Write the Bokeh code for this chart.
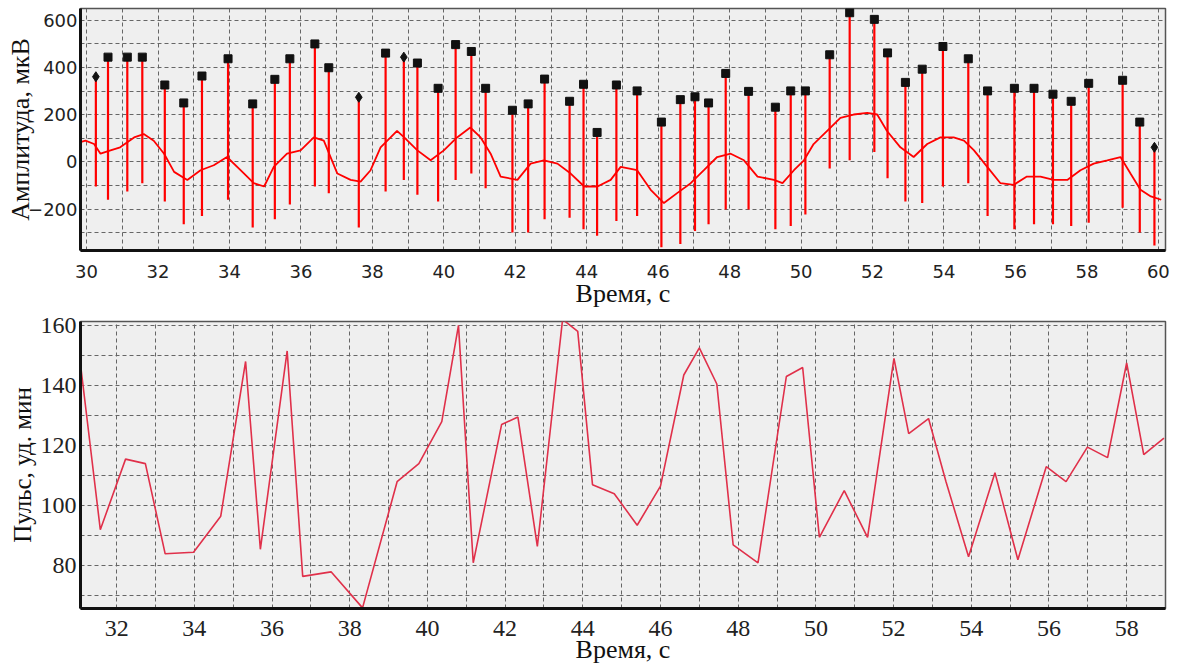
from bokeh.plotting import figure
from bokeh.models import Range1d, SingleIntervalTicker, FixedTicker
from bokeh.layouts import column
from bokeh.embed import file_html
from bokeh.resources import INLINE

# ---------------- data: ECG (top) ----------------
base_t = [29.85, 29.97, 30.21, 30.39, 30.67, 30.94, 31.33, 31.60, 31.88, 32.17,
          32.45, 32.82, 33.19, 33.56, 33.93, 34.31, 34.68, 34.97, 35.24, 35.61,
          35.99, 36.36, 36.64, 37.02, 37.39, 37.67, 37.95, 38.23, 38.51, 38.69,
          38.89, 39.26, 39.63, 40.00, 40.37, 40.74, 41.03, 41.31, 41.59, 42.06,
          42.43, 42.80, 43.18, 43.55, 43.93, 44.30, 44.67, 44.95, 45.41, 45.79,
          46.16, 46.53, 46.91, 47.28, 47.65, 48.03, 48.40, 48.78, 49.24, 49.48,
          49.80, 50.08, 50.35, 50.73, 51.10, 51.47, 51.85, 52.13, 52.40, 52.78,
          53.15, 53.53, 53.90, 54.27, 54.56, 54.84, 55.21, 55.58, 55.95, 56.32,
          56.70, 57.07, 57.45, 57.82, 58.19, 58.57, 58.94, 59.22, 59.50, 59.79,
          60.08]
base_v = [85, 90, 76, 35, 49, 62, 104, 118, 90, 35,
          -42, -76, -35, -14, 21, -35, -90, -104, -21, 35,
          49, 104, 90, -49, -76, -83, -35, 62, 104, 132,
          104, 49, 7, 49, 104, 146, 104, 35, -62, -76,
          -7, 7, -7, -49, -104, -104, -76, -21, -35, -118,
          -174, -132, -90, -35, 21, 35, 7, -62, -76, -90,
          -35, 7, 76, 132, 187, 201, 208, 201, 132, 62,
          21, 76, 104, 104, 90, 49, -21, -90, -97, -62,
          -62, -76, -76, -35, -7, 7, 21, -49, -118, -146,
          -160]

peak_t = [30.26, 30.60, 31.14, 31.56, 32.19, 32.72, 33.23, 33.96, 34.65, 35.27,
          35.69, 36.39, 36.78, 37.62, 38.37, 38.88, 39.26, 39.84, 40.33, 40.77,
          41.17, 41.92, 42.36, 42.82, 43.52, 43.91, 44.29, 44.83, 45.41, 46.09,
          46.62, 47.03, 47.41, 47.89, 48.53, 49.28, 49.71, 50.12, 50.80, 51.36,
          52.05, 52.42, 52.92, 53.39, 53.97, 54.68, 55.22, 55.97, 56.52, 57.05,
          57.56, 58.05, 59.00, 59.48, 59.89]
peak_v = [361, 444, 444, 444, 326, 250, 364, 437, 246, 350,
          437, 500, 399, 274, 461, 444, 419, 312, 497, 468,
          312, 219, 246, 351, 257, 329, 125, 326, 301, 169,
          264, 276, 250, 375, 299, 232, 301, 301, 454, 632,
          604, 462, 337, 393, 489, 437, 301, 312, 312, 287,
          257, 333, 346, 169, 62]
s_v = [-104, -160, -125, -90, -167, -264, -229, -160, -278, -243,
       -180, -104, -132, -278, -125, -76, -139, -167, -76, -49,
       -111, -299, -299, -243, -236, -285, -312, -250, -229, -361,
       -347, -292, -264, -201, -201, -285, -271, -222, -28, 7,
       42, -69, -167, -174, -104, -90, -229, -285, -264, -264,
       -271, -257, -194, -299, -354]
peak_kind = ["d", "s", "s", "s", "s", "s", "s", "s", "s", "s",
             "s", "s", "s", "d", "s", "d", "s", "s", "s", "s",
             "s", "s", "s", "s", "s", "s", "s", "s", "s", "s",
             "s", "s", "s", "s", "s", "s", "s", "s", "s", "s",
             "s", "s", "s", "s", "s", "s", "s", "s", "s", "s",
             "s", "s", "s", "s", "d"]

# ---------------- data: pulse (bottom) ----------------
pulse_t = [31.08, 31.58, 32.23, 32.74, 33.25, 33.98, 34.68, 35.32, 35.7, 36.39,
           36.79, 37.52, 38.33, 39.22, 39.78, 40.37, 40.8, 41.18, 41.91, 42.33,
           42.83, 43.48, 43.87, 44.25, 44.81, 45.4, 46.0, 46.6, 47.0, 47.45,
           47.87, 48.51, 49.24, 49.66, 50.09, 50.73, 51.33, 52.01, 52.39, 52.9,
           53.35, 53.93, 54.61, 55.2, 55.93, 56.44, 56.99, 57.51, 58.0, 58.44,
           58.96]
pulse_v = [146, 92, 115.5, 114, 84, 84.5, 96.5, 148, 85.5, 151.5,
           76.5, 78, 66, 108, 114, 128, 160, 81, 127, 129.5,
           86.5, 162, 158, 107, 104, 93.5, 106.5, 143.5, 152.5, 140.5,
           87, 81, 143, 146, 89.5, 105, 89.5, 149, 124, 129,
           108, 83, 111, 82, 113, 108, 119.5, 116, 147.5, 117,
           122.5]

SERIF = "Liberation Serif"
SANS = "DejaVu Sans"


def style(p, tick_font, tick_size, xt, yt, xg, yg, xstand, ystand):
    p.background_fill_color = "#efefef"
    p.border_fill_color = "white"
    p.outline_line_color = "#555555"
    p.outline_line_width = 1.5
    for ax in (p.xaxis[0], p.yaxis[0]):
        ax.axis_line_color = "#111111"
        ax.axis_line_width = 3
        ax.major_tick_out = 0
        ax.major_tick_in = 0
        ax.minor_tick_out = 0
        ax.minor_tick_in = 0
        ax.major_label_text_font = tick_font
        ax.major_label_text_font_size = tick_size
        ax.major_label_text_color = "#222222"
        ax.axis_label_text_font = SERIF
        ax.axis_label_text_font_style = "normal"
        ax.axis_label_text_font_size = "26px"
        ax.axis_label_text_color = "#111111"
    p.xaxis[0].ticker = xt
    p.yaxis[0].ticker = yt
    p.xaxis[0].major_label_standoff = xstand
    p.yaxis[0].major_label_standoff = ystand
    p.xgrid[0].ticker = xg
    p.ygrid[0].ticker = yg
    for g in (p.xgrid[0], p.ygrid[0]):
        g.grid_line_color = "#666666"
        g.grid_line_dash = "4 3"
        g.grid_line_width = 1


# ---------------- top figure ----------------
p1 = figure(width=1176, height=310, x_range=Range1d(29.83, 60.2), y_range=Range1d(-375, 650),
            output_backend="svg", toolbar_location=None,
            min_border_left=80, min_border_right=11, min_border_top=8, min_border_bottom=56)
style(p1, SANS, "18px",
      SingleIntervalTicker(interval=2, num_minor_ticks=0),
      FixedTicker(ticks=[-200, 0, 200, 400, 600]),
      SingleIntervalTicker(interval=1, num_minor_ticks=0),
      SingleIntervalTicker(interval=100, num_minor_ticks=0), 14, 3)
p1.xaxis.axis_label = "Время, с"
p1.yaxis.axis_label = "Амплитуда, мкВ"
p1.xaxis.axis_label_standoff = -2
p1.yaxis.axis_label_standoff = -10

p1.line(base_t, base_v, line_color="#ff0000", line_width=1.8)
p1.segment(peak_t, s_v, peak_t, peak_v, line_color="#ff0000", line_width=2.2)
sq_t = [t for t, k in zip(peak_t, peak_kind) if k == "s"]
sq_v = [v for v, k in zip(peak_v, peak_kind) if k == "s"]
dm_t = [t for t, k in zip(peak_t, peak_kind) if k == "d"]
dm_v = [v for v, k in zip(peak_v, peak_kind) if k == "d"]
p1.scatter(sq_t, sq_v, marker="square", size=8, fill_color="#111111", line_color="#111111")
p1.scatter(dm_t, dm_v, marker="diamond", size=10, fill_color="#111111", line_color="#111111")

# ---------------- bottom figure ----------------
p2 = figure(width=1176, height=356, x_range=Range1d(31.07, 59.0), y_range=Range1d(65.8, 161.3),
            output_backend="svg", toolbar_location=None,
            min_border_left=78, min_border_right=6, min_border_top=11, min_border_bottom=58)
style(p2, SERIF, "24px",
      SingleIntervalTicker(interval=2, num_minor_ticks=0),
      FixedTicker(ticks=[80, 100, 120, 140, 160]),
      SingleIntervalTicker(interval=1, num_minor_ticks=0),
      SingleIntervalTicker(interval=10, num_minor_ticks=0), 12, 4)
p2.xaxis.axis_label = "Время, с"
p2.yaxis.axis_label = "Пульс, уд. мин"
p2.yaxis.axis_label_text_font_size = "25px"
p2.xaxis.axis_label_standoff = -4
p2.yaxis.axis_label_standoff = 2
p2.line(pulse_t, pulse_v, line_color="#e0304a", line_width=1.6)

layout = column(p1, p2, spacing=0)
open("out.html", "w").write(file_html(layout, INLINE))
